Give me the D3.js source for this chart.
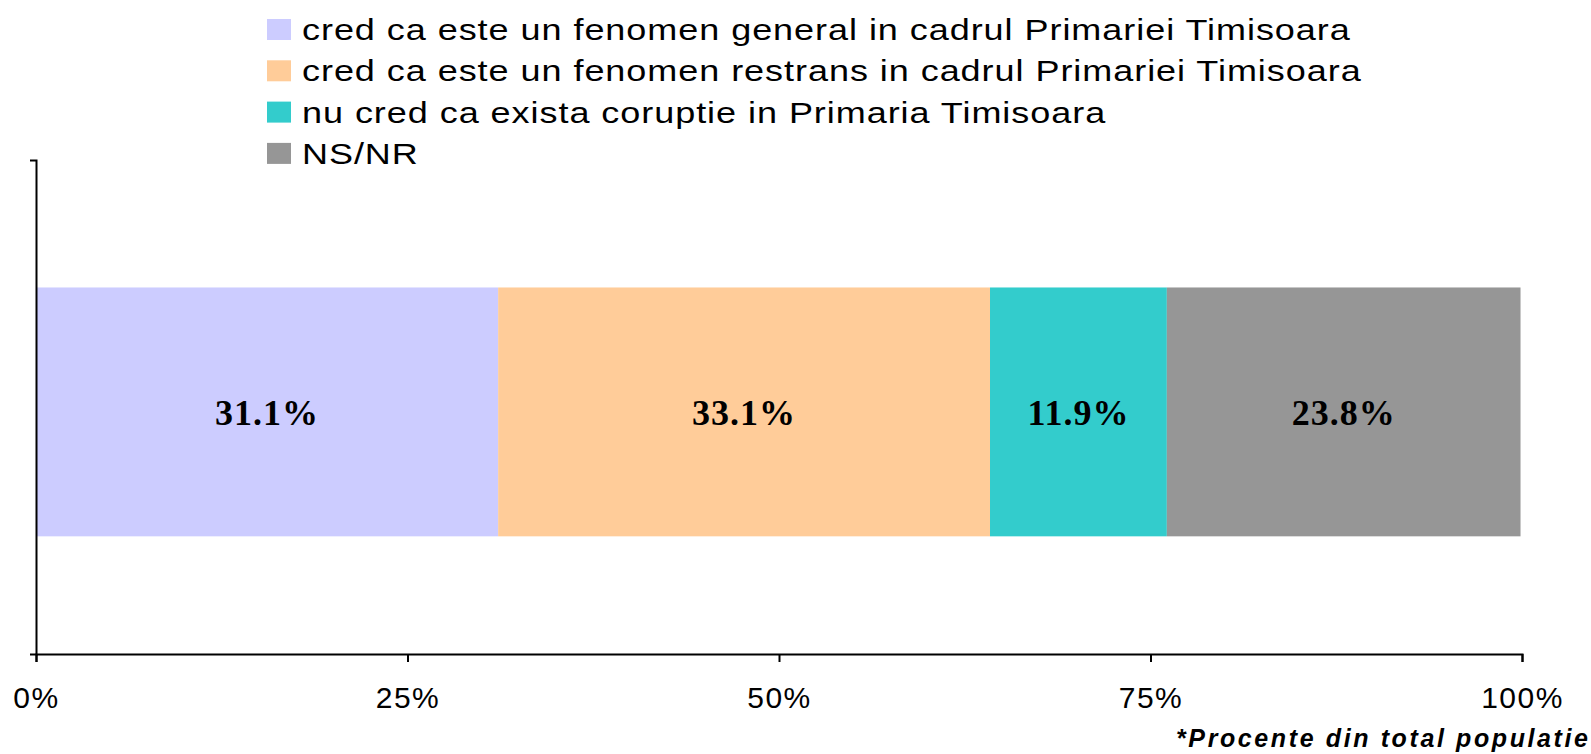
<!DOCTYPE html>
<html>
<head>
<meta charset="utf-8">
<script src="https://cdn.jsdelivr.net/npm/d3@7"></script>
<style>
  body { margin: 0; background: #fff; }
  svg { display: block; }
</style>
</head>
<body>
<svg id="chart" width="1591" height="754"></svg>
<script>
// categories of the answer, in stacking order
var answers = [
    'cred ca este un fenomen general in cadrul Primariei Timisoara',
    'cred ca este un fenomen restrans in cadrul Primariei Timisoara',
    'nu cred ca exista coruptie in Primaria Timisoara',
    'NS/NR'
];
var shares = [31.1, 33.1, 11.9, 23.8];
var colors = ['#ccccff', '#ffcc99', '#33cccc', '#969696'];
var xTicks = [0, 25, 50, 75, 100];
var note = '*Procente din total populatie';

var svg = d3.select('#chart');
var plotLeft = 36, plotRight = 1522, plotTop = 160, plotBottom = 654;

var x = d3.scaleLinear().domain([0, 100]).range([plotLeft, plotRight]);
var y = d3.scaleBand().domain(['total']).range([plotTop, plotBottom])
    .paddingInner(0.33).paddingOuter(0.33).align(0.52);

// cumulative offsets for the stacked bar
var row = {};
answers.forEach(function(a, i) { row[a] = shares[i]; });
var series = d3.stack().keys(answers)([row]);

var bars = svg.append('g').attr('class', 'bars');
bars.selectAll('rect')
    .data(series)
  .enter().append('rect')
    .attr('x', function(s) { return x(s[0][0]); })
    .attr('width', function(s) { return x(s[0][1]) - x(s[0][0]); })
    .attr('y', y('total'))
    .attr('height', y.bandwidth())
    .attr('fill', function(s, i) { return colors[i]; });

bars.selectAll('text')
    .data(series)
  .enter().append('text')
    .attr('x', function(s) { return (x(s[0][0]) + x(s[0][1])) / 2; })
    .attr('y', y('total') + y.bandwidth() / 2 + 13)
    .attr('text-anchor', 'middle')
    .style('font-family', '"Liberation Serif", "Times New Roman", serif')
    .style('font-weight', 'bold')
    .style('font-size', '36px')
    .style('letter-spacing', '1px')
    .text(function(s, i) { return shares[i].toFixed(1) + '%'; });

// x axis
var xAxis = svg.append('g')
    .attr('transform', 'translate(0,' + plotBottom + ')')
    .call(d3.axisBottom(x)
        .tickValues(xTicks)
        .tickSize(8)
        .tickSizeOuter(8)
        .tickFormat(function(d) { return d + '%'; }));
xAxis.selectAll('path, line').attr('stroke', '#000').attr('stroke-width', 2);
xAxis.selectAll('text')
    .attr('y', 54)
    .attr('dy', 0)
    .attr('fill', '#000')
    .style('font-family', '"Liberation Sans", Arial, sans-serif')
    .style('font-size', '30px')
    .style('letter-spacing', '1.5px');

// y axis: only the line with the outer ticks
var yAxis = svg.append('g')
    .attr('transform', 'translate(' + plotLeft + ',0)')
    .call(d3.axisLeft(y).tickValues([]).tickSizeOuter(6));
yAxis.select('path').attr('stroke', '#000').attr('stroke-width', 2);

// legend - the source font is a wide one, so stretch the glyphs a bit
var legend = svg.append('g')
    .attr('transform', 'translate(267,40)');
var items = legend.selectAll('g')
    .data(answers)
  .enter().append('g')
    .attr('transform', function(d, i) { return 'translate(0,' + (i * 41.3) + ')'; });
items.append('rect')
    .attr('y', -21)
    .attr('width', 24)
    .attr('height', 21)
    .attr('fill', function(d, i) { return colors[i]; });
items.append('text')
    .attr('transform', 'translate(35,0) scale(1.2,1)')
    .style('font-family', '"Liberation Sans", Arial, sans-serif')
    .style('font-size', '30px')
    .style('letter-spacing', '0.8px')
    .text(function(d) { return d; });

svg.append('text')
    .attr('x', 1588)
    .attr('y', 747)
    .attr('text-anchor', 'end')
    .attr('textLength', 412)
    .attr('lengthAdjust', 'spacing')
    .style('font-family', '"Liberation Sans", Arial, sans-serif')
    .style('font-size', '25px')
    .style('font-weight', 'bold')
    .style('font-style', 'italic')
    .text(note);
</script>
</body>
</html>
